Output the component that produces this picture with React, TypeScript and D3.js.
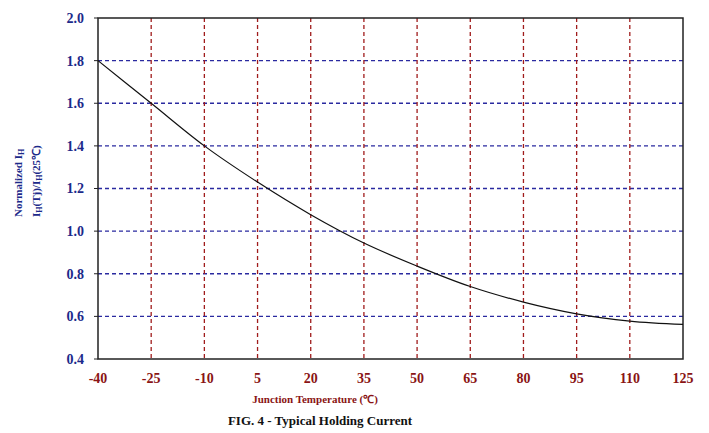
import React, { useEffect, useRef } from "react";
import * as d3 from "d3";

// junction temperature (°C) vs normalized holding current
const temps = [-40, -25, -10, 5, 20, 35, 50, 65, 80, 95, 110, 125];
const ihNorm = [1.8, 1.6, 1.4, 1.23, 1.077, 0.944, 0.836, 0.74, 0.667, 0.612, 0.578, 0.562];
const xTicks = [-40, -25, -10, 5, 20, 35, 50, 65, 80, 95, 110, 125];
const yTicks = [0.4, 0.6, 0.8, 1.0, 1.2, 1.4, 1.6, 1.8, 2.0];

const W = 709;
const H = 433;
const margin = { top: 18, right: 26, bottom: 74, left: 98 };

export default function App() {
  const ref = useRef<SVGSVGElement>(null);

  useEffect(() => {
    const svg = d3.select(ref.current);
    svg.selectAll("*").remove();

    const width = W - margin.left - margin.right;
    const height = H - margin.top - margin.bottom;
    const font = "'Liberation Serif', 'Times New Roman', serif";
    const blue = "#1c2a8a";
    const red = "#8a1414";

    const x = d3.scaleLinear().domain([-40, 125]).range([0, width]);
    const y = d3.scaleLinear().domain([0.4, 2.0]).range([height, 0]);

    const g = svg.append("g").attr("transform", `translate(${margin.left},${margin.top})`);

    // horizontal grid
    g.selectAll(".hgrid")
      .data(yTicks.slice(1, -1))
      .join("line")
      .attr("x1", 0)
      .attr("x2", width)
      .attr("y1", d => y(d))
      .attr("y2", d => y(d))
      .attr("stroke", "#2a2aa0")
      .attr("stroke-width", 1.3)
      .attr("stroke-dasharray", "4,3");

    // vertical grid
    g.selectAll(".vgrid")
      .data(xTicks.slice(1, -1))
      .join("line")
      .attr("x1", d => x(d))
      .attr("x2", d => x(d))
      .attr("y1", 0)
      .attr("y2", height)
      .attr("stroke", "#a01c1c")
      .attr("stroke-width", 1.3)
      .attr("stroke-dasharray", "4,3");

    // frame
    g.append("rect")
      .attr("width", width)
      .attr("height", height)
      .attr("fill", "none")
      .attr("stroke", "#222")
      .attr("stroke-width", 1.5);

    // small y ticks
    g.selectAll(".ytick")
      .data(yTicks)
      .join("line")
      .attr("x1", -4)
      .attr("x2", 0)
      .attr("y1", d => y(d))
      .attr("y2", d => y(d))
      .attr("stroke", "#222");

    // curve
    const line = d3.line<number>()
      .x((d, i) => x(temps[i]))
      .y(d => y(d))
      .curve(d3.curveMonotoneX);

    g.append("path")
      .datum(ihNorm)
      .attr("fill", "none")
      .attr("stroke", "#111")
      .attr("stroke-width", 1.2)
      .attr("d", line);

    // y tick labels
    g.selectAll(".ylab")
      .data(yTicks)
      .join("text")
      .attr("x", -14)
      .attr("y", d => y(d))
      .attr("dy", "0.35em")
      .attr("text-anchor", "end")
      .style("font-family", font)
      .style("font-weight", "bold")
      .style("font-size", "14px")
      .style("fill", blue)
      .text(d => d.toFixed(1));

    // x tick labels
    g.selectAll(".xlab")
      .data(xTicks)
      .join("text")
      .attr("x", d => x(d))
      .attr("y", height + 24)
      .attr("text-anchor", "middle")
      .style("font-family", font)
      .style("font-weight", "bold")
      .style("font-size", "14px")
      .style("fill", red)
      .text(d => d);

    // x axis title
    svg.append("text")
      .attr("x", 315)
      .attr("y", 403)
      .attr("text-anchor", "middle")
      .style("font-family", font)
      .style("font-weight", "bold")
      .style("font-size", "11px")
      .style("fill", red)
      .text("Junction Temperature (℃)");

    // caption
    svg.append("text")
      .attr("x", 320)
      .attr("y", 425)
      .attr("text-anchor", "middle")
      .style("font-family", font)
      .style("font-weight", "bold")
      .style("font-size", "13px")
      .style("fill", "#111")
      .text("FIG. 4 - Typical Holding Current");

    // y axis title, two rotated lines
    const t1 = svg.append("text")
      .attr("transform", "translate(22,217) rotate(-90)")
      .attr("text-anchor", "start")
      .style("font-family", font)
      .style("font-weight", "bold")
      .style("font-size", "11px")
      .style("fill", blue);
    t1.append("tspan").text("Normalized I");
    t1.append("tspan").attr("dy", 2).style("font-size", "8px").text("H");

    const t2 = svg.append("text")
      .attr("transform", "translate(40,217) rotate(-90)")
      .attr("text-anchor", "start")
      .style("font-family", font)
      .style("font-weight", "bold")
      .style("font-size", "11px")
      .style("fill", blue);
    t2.append("tspan").text("I");
    t2.append("tspan").attr("dy", 2).style("font-size", "8px").text("H");
    t2.append("tspan").attr("dy", -2).text("(Tj)/I");
    t2.append("tspan").attr("dy", 2).style("font-size", "8px").text("H");
    t2.append("tspan").attr("dy", -2).text("(25℃)");
  }, []);

  return (
    <svg
      ref={ref}
      width={W}
      height={H}
      style={{ position: "absolute", left: 0, top: 0, background: "#fff" }}
    />
  );
}
